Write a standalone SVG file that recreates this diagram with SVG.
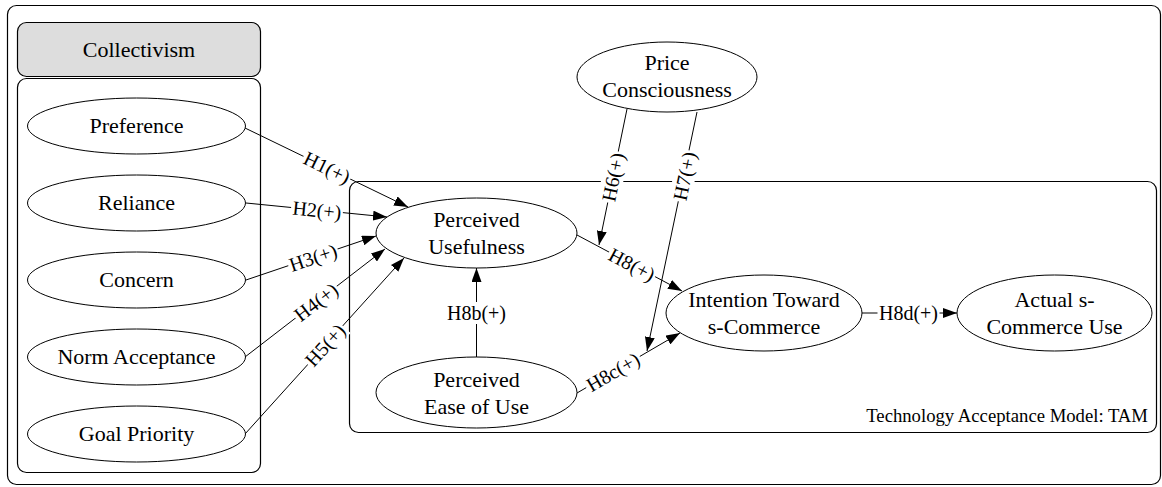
<svg xmlns="http://www.w3.org/2000/svg" width="1162" height="487" viewBox="0 0 1162 487" font-family="'Liberation Serif', serif">
<style>
.box{fill:none;stroke:#000;stroke-width:1.2}
.node{fill:#fff;stroke:#000;stroke-width:1}
.t{font-family:'Liberation Serif',serif;font-size:22px;fill:#000;text-anchor:middle}
.el{font-family:'Liberation Serif',serif;font-size:20px;fill:#000;text-anchor:middle}
.tam{font-family:'Liberation Serif',serif;font-size:18.7px;fill:#000;text-anchor:end}
.edge{fill:none;stroke:#000;stroke-width:1;marker-end:url(#arr)}
.lb{fill:#fff}
</style>
<defs>
<marker id="arr" markerUnits="userSpaceOnUse" markerWidth="14" markerHeight="10" refX="14" refY="5" orient="auto" viewBox="0 0 14 10">
<path d="M0,0 L14,5 L0,10 z" fill="#000"/>
</marker>
</defs>
<rect id="outer" x="7.5" y="5.5" width="1153" height="479" rx="9" class="box"/>
<g id="collectivism">
<rect x="17.5" y="22.5" width="243" height="54" rx="9" fill="#dddddd" stroke="#000" stroke-width="1.2"/>
<text class="t" x="139" y="57">Collectivism</text>
<rect x="17.5" y="78.5" width="243" height="394" rx="9" class="box"/>
</g>
<g id="tam">
<rect x="349.5" y="181.5" width="807" height="251" rx="9" class="box"/>
<text class="tam" x="1148" y="422">Technology Acceptance Model: TAM</text>
</g>
<g id="connectors">
<line class="edge" x1="245" y1="128" x2="408" y2="207"/>
<line class="edge" x1="246" y1="203" x2="387" y2="217"/>
<line class="edge" x1="246" y1="280" x2="376" y2="236"/>
<line class="edge" x1="245" y1="357" x2="385" y2="249"/>
<line class="edge" x1="245" y1="434" x2="404" y2="258"/>
<line class="edge" x1="476.5" y1="357" x2="476.5" y2="268"/>
<line class="edge" x1="577" y1="235" x2="682" y2="291"/>
<line class="edge" x1="577" y1="393" x2="680" y2="333"/>
<line class="edge" x1="862" y1="313" x2="957" y2="313"/>
<line class="edge" x1="627" y1="109" x2="599" y2="245"/>
<line class="edge" x1="697" y1="112" x2="647" y2="351"/>
<g transform="translate(327,167.5) rotate(25.9)"><rect class="lb" x="-26" y="-11" width="52" height="22"/><text class="el" y="7">H1(+)</text></g>
<g transform="translate(317,210) rotate(5.7)"><rect class="lb" x="-26" y="-11" width="52" height="22"/><text class="el" y="7">H2(+)</text></g>
<g transform="translate(313,257.5) rotate(-18.7)"><rect class="lb" x="-26" y="-11" width="52" height="22"/><text class="el" y="7">H3(+)</text></g>
<g transform="translate(316,302) rotate(-37.6)"><rect class="lb" x="-26" y="-11" width="52" height="22"/><text class="el" y="7">H4(+)</text></g>
<g transform="translate(325,345) rotate(-47.9)"><rect class="lb" x="-26" y="-11" width="52" height="22"/><text class="el" y="7">H5(+)</text></g>
<g transform="translate(476.5,313)"><rect class="lb" x="-31" y="-11" width="62" height="22"/><text class="el" y="7">H8b(+)</text></g>
<g transform="translate(632,264.5) rotate(28)"><rect class="lb" x="-26" y="-11" width="52" height="22"/><text class="el" y="7">H8(+)</text></g>
<g transform="translate(613,372) rotate(-30.2)"><rect class="lb" x="-31" y="-11" width="62" height="22"/><text class="el" y="7">H8c(+)</text></g>
<g transform="translate(908.5,313)"><rect class="lb" x="-31" y="-11" width="62" height="22"/><text class="el" y="7">H8d(+)</text></g>
<g transform="translate(613,177) rotate(-78.4)"><rect class="lb" x="-26" y="-11" width="52" height="22"/><text class="el" y="7">H6(+)</text></g>
<g transform="translate(684.5,176) rotate(-78.2)"><rect class="lb" x="-26" y="-11" width="52" height="22"/><text class="el" y="7">H7(+)</text></g>
</g>
<g id="preference"><ellipse class="node" cx="136.5" cy="126" rx="109" ry="28"/><text class="t" x="136.5" y="133">Preference</text></g>
<g id="reliance"><ellipse class="node" cx="136.5" cy="203" rx="109" ry="28"/><text class="t" x="136.5" y="210">Reliance</text></g>
<g id="concern"><ellipse class="node" cx="136.5" cy="280" rx="109" ry="28"/><text class="t" x="136.5" y="287">Concern</text></g>
<g id="norm"><ellipse class="node" cx="136.5" cy="357" rx="109" ry="28"/><text class="t" x="136.5" y="364">Norm Acceptance</text></g>
<g id="goal"><ellipse class="node" cx="136.5" cy="434" rx="109" ry="28"/><text class="t" x="136.5" y="441">Goal Priority</text></g>
<g id="price"><ellipse class="node" cx="667" cy="77" rx="90" ry="35"/><text class="t" x="667" y="70">Price</text><text class="t" x="667" y="97">Consciousness</text></g>
<g id="pu"><ellipse class="node" cx="476.5" cy="233" rx="100.5" ry="35"/><text class="t" x="476.5" y="227">Perceived</text><text class="t" x="476.5" y="254">Usefulness</text></g>
<g id="peou"><ellipse class="node" cx="476.5" cy="392.5" rx="100.5" ry="35.5"/><text class="t" x="476.5" y="386.5">Perceived</text><text class="t" x="476.5" y="413.5">Ease of Use</text></g>
<g id="intention"><ellipse class="node" cx="764" cy="313" rx="98" ry="38"/><text class="t" x="764" y="307">Intention Toward</text><text class="t" x="764" y="334">s-Commerce</text></g>
<g id="actual"><ellipse class="node" cx="1054.5" cy="313" rx="97.5" ry="38"/><text class="t" x="1054.5" y="307">Actual s-</text><text class="t" x="1054.5" y="334">Commerce Use</text></g>
</svg>
